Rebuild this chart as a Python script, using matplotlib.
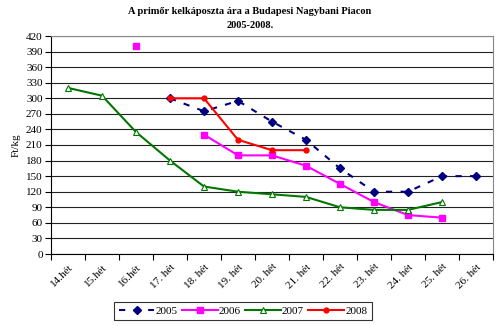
import matplotlib
matplotlib.use("Agg")
import matplotlib.pyplot as plt
import numpy as np

plt.rcParams['font.family'] = ['Liberation Serif', 'DejaVu Serif']

weeks = ["14.hét", "15.hét", "16.hét", "17. hét", "18. hét", "19. hét", "20. hét",
         "21. hét", "22. hét", "23. hét", "24. hét", "25. hét", "26. hét"]
nan = np.nan
s2005 = [nan, nan, nan, 300, 275, 295, 255, 220, 165, 120, 120, 150, 150]
s2006 = [nan, nan, 400, nan, 230, 190, 190, 170, 135, 100, 75, 70, nan]
s2007 = [320, 305, 235, 180, 130, 120, 115, 110, 90, 85, 85, 100, nan]
s2008 = [nan, nan, nan, 300, 300, 220, 200, 200, nan, nan, nan, nan, nan]
yticks = list(range(0, 421, 30))

fig = plt.figure(figsize=(5.0, 3.26), dpi=100)
ax = fig.add_axes([51/500, 1-254/326, 442/500, 218/326])
x = np.arange(len(weeks))

ax.plot(x, s2005, color='#000080', linestyle=(0, (3, 4)), lw=1.5, marker='D',
        markersize=4.5, label='2005')
ax.plot(x, s2006, color='#FF00FF', lw=1.5, marker='s', markersize=4, label='2006')
ax.plot(x, s2007, color='#007700', lw=1.5, marker='^', markersize=5,
        markerfacecolor='white', markeredgecolor='#007700', markeredgewidth=0.8, label='2007')
ax.plot(x, s2008, color='#FF0000', lw=1.5, marker='o', markersize=3.5, label='2008')

ax.set_xlim(-0.5, len(weeks) - 0.5)
ax.set_ylim(0, 420)
ax.set_yticks(yticks)
ax.set_yticklabels([str(v) for v in yticks], fontsize=8)
ax.yaxis.grid(True, color='#222222', lw=0.8)
ax.set_axisbelow(True)
ax.set_xticks(np.arange(len(weeks) + 1) - 0.5, minor=False)
ax.set_xticklabels([])
ax.set_xticks(x, minor=True)
ax.set_xticklabels(weeks, minor=True, rotation=45, ha='right', va='top',
                   rotation_mode='anchor', fontsize=8)
ax.tick_params(axis='x', which='minor', length=0, pad=6)
ax.tick_params(axis='x', which='major', length=4, direction='out', color='black')
ax.tick_params(axis='y', length=4, direction='out', pad=2)
for sp in ['top', 'right']:
    ax.spines[sp].set_color('#888888')
for sp in ['left', 'bottom']:
    ax.spines[sp].set_color('black')

ax.set_ylabel('Ft/kg', fontsize=8, labelpad=4)
fig.text(0.5, 1 - 12/326, 'A primőr kelkáposzta ára a Budapesi Nagybani Piacon',
         ha='center', va='center', fontsize=7.5, fontweight='bold')
fig.text(0.5, 1 - 25/326, '2005-2008.', ha='center', va='center',
         fontsize=7.5, fontweight='bold')

leg = fig.legend(loc='center', bbox_to_anchor=(243/500, 1 - 311/326), ncol=4,
                 fontsize=8, frameon=True, fancybox=False, edgecolor='black',
                 handlelength=3.2, columnspacing=0.4, handletextpad=0.1,
                 borderpad=0.4)
leg.get_frame().set_linewidth(0.8)

fig.savefig('out.png', dpi=100)
